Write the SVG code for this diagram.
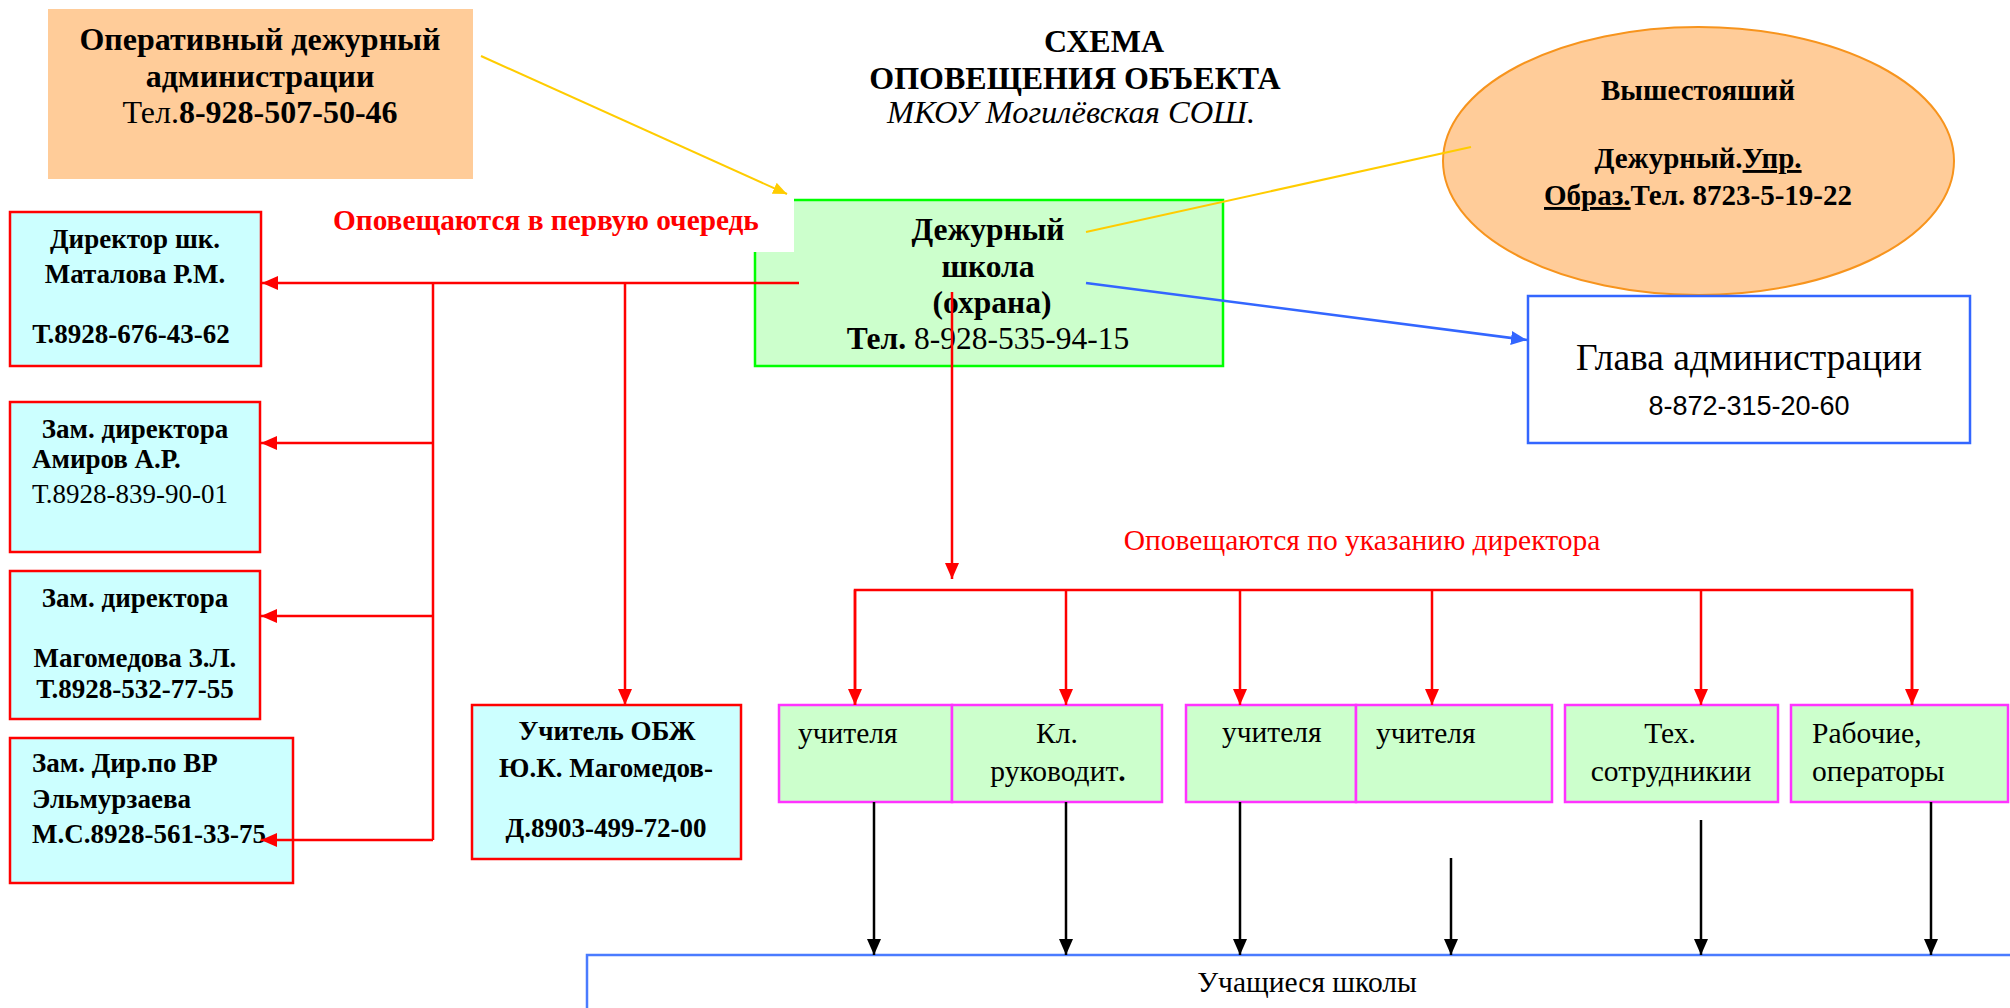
<svg xmlns="http://www.w3.org/2000/svg" width="2010" height="1008" viewBox="0 0 2010 1008">
<style>
text{font-family:"Liberation Serif","Times New Roman",serif;fill:#000}
.b{font-weight:bold}
.c{text-anchor:middle}
.red{fill:#FF0000}
.cy{fill:#CCFFFF;stroke:#FF0000;stroke-width:2.5}
.mg{fill:#CCFFCC;stroke:#FF33FF;stroke-width:2.5}
.rl{stroke:#FF0000;stroke-width:2.5;fill:none}
.bl{stroke:#000;stroke-width:2.5;fill:none}
.f26{font-size:27px}
.f28{font-size:29.5px}
</style>
<defs>
<marker id="ar" viewBox="0 0 16 14" refX="16" refY="7" markerWidth="16" markerHeight="14" orient="auto" markerUnits="userSpaceOnUse"><path d="M0,0L16,7L0,14z" fill="#FF0000"/></marker>
<marker id="ak" viewBox="0 0 16 14" refX="16" refY="7" markerWidth="16" markerHeight="14" orient="auto" markerUnits="userSpaceOnUse"><path d="M0,0L16,7L0,14z" fill="#000"/></marker>
<marker id="ab" viewBox="0 0 16 14" refX="16" refY="7" markerWidth="16" markerHeight="14" orient="auto" markerUnits="userSpaceOnUse"><path d="M0,0L16,7L0,14z" fill="#3366FF"/></marker>
<marker id="ay" viewBox="0 0 14 12" refX="14" refY="6" markerWidth="14" markerHeight="12" orient="auto" markerUnits="userSpaceOnUse"><path d="M0,0L14,6L0,12z" fill="#FFCC00"/></marker>
</defs>

<g id="title">
<text class="b c" x="1104" y="52" font-size="32">СХЕМА</text>
<text class="b c" x="1075" y="89" font-size="32">ОПОВЕЩЕНИЯ ОБЪЕКТА</text>
<text class="c" x="1071" y="123" font-size="32.5" font-style="italic">МКОУ Могилёвская СОШ.</text>
</g>

<g id="operative">
<rect x="48" y="9" width="425" height="170" fill="#FFCC99"/>
<text class="b c" x="260" y="50" font-size="32">Оперативный дежурный</text>
<text class="b c" x="260" y="87" font-size="32">администрации</text>
<text class="c" x="260" y="123" font-size="32">Тел.<tspan class="b">8-928-507-50-46</tspan></text>
</g>

<g id="duty">
<rect x="755" y="200" width="468" height="166" fill="#CCFFCC" stroke="#00FF00" stroke-width="2.5"/>
<text class="b c" x="988" y="240" font-size="31.5">Дежурный</text>
<text class="b c" x="988" y="277" font-size="31.5">школа</text>
<text class="b c" x="992" y="313" font-size="31.5">(охрана)</text>
<text class="c" x="988" y="349" font-size="31.5"><tspan class="b">Тел.</tspan> 8-928-535-94-15</text>
</g>

<g id="label1">
<rect x="320" y="196" width="474" height="56" fill="#FFFFFF"/>
<text class="b red" x="333" y="230" font-size="29.3">Оповещаются в первую очередь</text>
</g>

<g id="superior">
<ellipse cx="1698.5" cy="161" rx="255.5" ry="134" fill="#FFCC99" stroke="#F7941D" stroke-width="2"/>
<text class="b c" x="1698" y="100" font-size="29">Вышестояший</text>
<text class="b c" x="1698" y="168" font-size="29">Дежурный.<tspan text-decoration="underline">Упр.</tspan></text>
<text class="b c" x="1698" y="205" font-size="29"><tspan text-decoration="underline">Образ.</tspan>Тел. 8723-5-19-22</text>
</g>

<g id="head">
<rect x="1528" y="296" width="442" height="147" fill="#FFFFFF" stroke="#3366FF" stroke-width="2.5"/>
<text class="c" x="1749" y="370" font-size="37.5">Глава администрации</text>
<text class="c" x="1749" y="415" font-size="27" style="font-family:'Liberation Sans',Arial,sans-serif">8-872-315-20-60</text>
</g>

<g id="director">
<rect class="cy" x="10" y="212" width="251" height="154"/>
<text class="b c f26" x="135" y="248">Директор шк.</text>
<text class="b c f26" x="135" y="283">Маталова Р.М.</text>
<text class="b c f26" x="131" y="343">Т.8928-676-43-62</text>
</g>

<g id="deputy1">
<rect class="cy" x="10" y="402" width="250" height="150"/>
<text class="b c f26" x="135" y="438">Зам. директора</text>
<text class="b f26" x="32" y="468">Амиров А.Р.</text>
<text class="f26" x="32" y="503">Т.8928-839-90-01</text>
</g>

<g id="deputy2">
<rect class="cy" x="10" y="571" width="250" height="148"/>
<text class="b c f26" x="135" y="607">Зам. директора</text>
<text class="b c f26" x="135" y="667">Магомедова З.Л.</text>
<text class="b c f26" x="135" y="698">Т.8928-532-77-55</text>
</g>

<g id="deputy3">
<rect class="cy" x="10" y="738" width="283" height="145"/>
<text class="b f26" x="32" y="772">Зам. Дир.по ВР</text>
<text class="b f26" x="32" y="808">Эльмурзаева</text>
<text class="b f26" x="32" y="843">М.С.8928-561-33-75</text>
</g>

<g id="obzh">
<rect class="cy" x="472" y="705" width="269" height="154"/>
<text class="b c f26" x="607" y="740">Учитель ОБЖ</text>
<text class="b c f26" x="606" y="777">Ю.К. Магомедов-</text>
<text class="b c f26" x="606" y="837">Д.8903-499-72-00</text>
</g>

<g id="label2">
<text class="red c" x="1362" y="550" font-size="29.5">Оповещаются по указанию директора</text>
</g>

<g id="teachers1">
<rect class="mg" x="779" y="705" width="173" height="97"/>
<text class="f28" x="798" y="743">учителя</text>
</g>
<g id="classleaders">
<rect class="mg" x="952" y="705" width="210" height="97"/>
<text class="f28 c" x="1057" y="743">Кл.</text>
<text class="f28 c" x="1058" y="781">руководит<tspan class="b">.</tspan></text>
</g>
<g id="teachers2">
<rect class="mg" x="1186" y="705" width="170" height="97"/>
<text class="f28" x="1222" y="742">учителя</text>
</g>
<g id="teachers3">
<rect class="mg" x="1356" y="705" width="196" height="97"/>
<text class="f28" x="1376" y="743">учителя</text>
</g>
<g id="tech">
<rect class="mg" x="1565" y="705" width="213" height="97"/>
<text class="f28 c" x="1670" y="743">Тех.</text>
<text class="f28 c" x="1671" y="781">сотрудникии</text>
</g>
<g id="workers">
<rect class="mg" x="1791" y="705" width="217" height="97"/>
<text class="f28" x="1812" y="743">Рабочие,</text>
<text class="f28" x="1812" y="781">операторы</text>
</g>

<g id="students">
<path d="M587,1008V955H2010" fill="none" stroke="#4A7BFF" stroke-width="2.5"/>
<text class="c" x="1307" y="992" font-size="29.5">Учащиеся школы</text>
</g>

<g id="connectors">
<line x1="481" y1="56" x2="787" y2="194" stroke="#FFCC00" stroke-width="2" marker-end="url(#ay)"/>
<line x1="1086" y1="232" x2="1471" y2="147" stroke="#FFCC00" stroke-width="2"/>
<line x1="1086" y1="283" x2="1527" y2="340" stroke="#3366FF" stroke-width="2.5" marker-end="url(#ab)"/>
<line class="rl" x1="799" y1="283" x2="262" y2="283" marker-end="url(#ar)" stroke-width="3"/>
<line class="rl" x1="433" y1="283" x2="433" y2="840"/>
<line class="rl" x1="433" y1="443" x2="261" y2="443" marker-end="url(#ar)"/>
<line class="rl" x1="433" y1="616" x2="261" y2="616" marker-end="url(#ar)"/>
<line class="rl" x1="433" y1="840" x2="261" y2="840" marker-end="url(#ar)"/>
<line class="rl" x1="625" y1="283" x2="625" y2="705" marker-end="url(#ar)"/>
<line class="rl" x1="952" y1="292" x2="952" y2="579" marker-end="url(#ar)"/>
<path class="rl" d="M855,705V590H1912V705"/>
<line class="rl" x1="855" y1="590" x2="855" y2="705" marker-end="url(#ar)"/>
<line class="rl" x1="1066" y1="590" x2="1066" y2="705" marker-end="url(#ar)"/>
<line class="rl" x1="1240" y1="590" x2="1240" y2="705" marker-end="url(#ar)"/>
<line class="rl" x1="1432" y1="590" x2="1432" y2="705" marker-end="url(#ar)"/>
<line class="rl" x1="1701" y1="590" x2="1701" y2="705" marker-end="url(#ar)"/>
<line class="rl" x1="1912" y1="590" x2="1912" y2="705" marker-end="url(#ar)"/>
<line class="bl" x1="874" y1="802" x2="874" y2="955" marker-end="url(#ak)"/>
<line class="bl" x1="1066" y1="802" x2="1066" y2="955" marker-end="url(#ak)"/>
<line class="bl" x1="1240" y1="802" x2="1240" y2="955" marker-end="url(#ak)"/>
<line class="bl" x1="1451" y1="858" x2="1451" y2="955" marker-end="url(#ak)"/>
<line class="bl" x1="1701" y1="820" x2="1701" y2="955" marker-end="url(#ak)"/>
<line class="bl" x1="1931" y1="802" x2="1931" y2="955" marker-end="url(#ak)"/>
</g>
</svg>
